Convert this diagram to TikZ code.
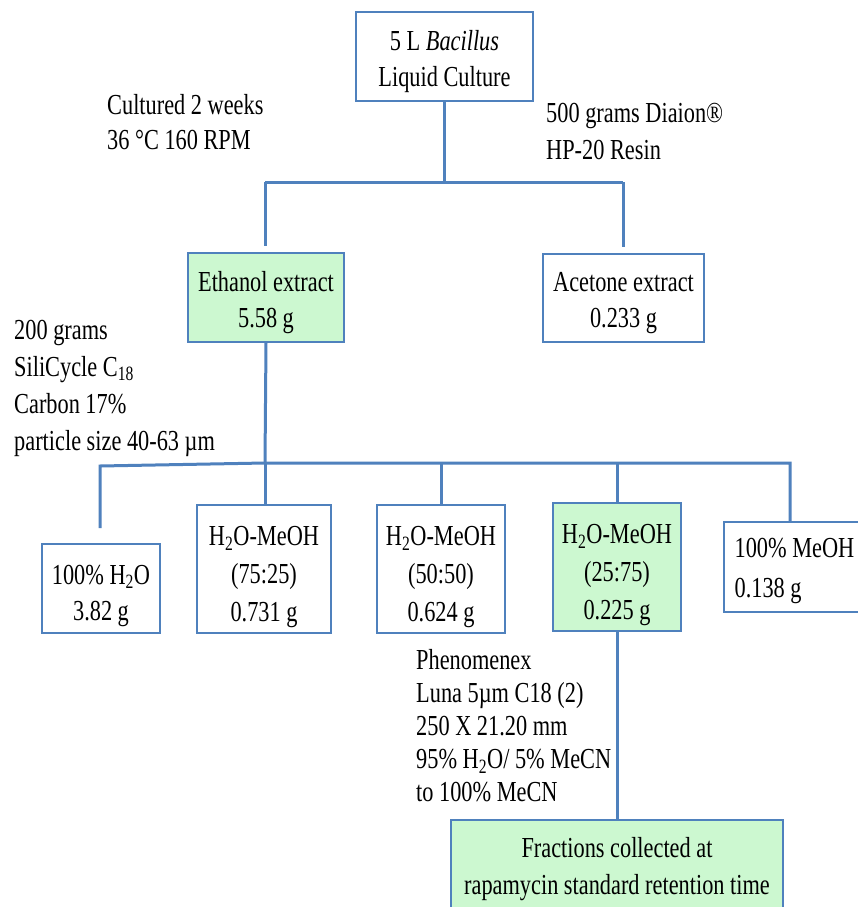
\documentclass[tikz,border=0pt]{standalone}
\usepackage{fontspec}
\setmainfont[FakeStretch=0.77]{Liberation Serif}
\definecolor{lineblue}{HTML}{4F81BD}
\definecolor{boxgreen}{HTML}{CCF8D0}
\tikzset{
  box/.style={draw=lineblue, line width=1.2pt, fill=white, inner sep=0pt},
  gbox/.style={box, fill=boxgreen},
  btxt/.style={align=center, inner sep=0pt, font=\fontsize{29}{36}\selectfont},
  conn/.style={draw=lineblue, line width=3pt},
  note/.style={align=left, anchor=west, inner sep=0pt},
}
\begin{document}
\begin{tikzpicture}[x=1pt,y=-1pt]
\useasboundingbox (0,0) rectangle (858,907);
\clip (0,0) rectangle (858,907);
\fill[white] (0,0) rectangle (858,907);

% boxes
\node[box, minimum width=177pt, minimum height=89pt] (top) at (444.5,56.5) {};
\node[btxt] (top-t) at ([yshift=-5pt]top.center) {5 L \textit{Bacillus}\\Liquid Culture};
\node[gbox, minimum width=156pt, minimum height=89pt] (eth) at (266,297.5) {};
\node[btxt] (eth-t) at ([yshift=-5pt]eth.center) {Ethanol extract\\5.58 g};
\node[box, minimum width=161pt, minimum height=88pt] (ace) at (623.5,298) {};
\node[btxt] (ace-t) at ([yshift=-5pt]ace.center) {Acetone extract\\0.233 g};
\node[box, minimum width=118pt, minimum height=89pt] (b1) at (101,588.5) {};
\node[btxt] (b1-t) at ([yshift=-7pt]b1.center) {100\% H\textsubscript{2}O\\3.82 g};
\node[box, minimum width=134pt, minimum height=128pt] (b2) at (264,569) {};
\node[btxt, font=\fontsize{29}{38}\selectfont] (b2-t) at ([yshift=-8pt]b2.center) {H\textsubscript{2}O-MeOH\\(75:25)\\0.731 g};
\node[box, minimum width=128pt, minimum height=128pt] (b3) at (441,569) {};
\node[btxt, font=\fontsize{29}{38}\selectfont] (b3-t) at ([yshift=-8pt]b3.center) {H\textsubscript{2}O-MeOH\\(50:50)\\0.624 g};
\node[gbox, minimum width=128pt, minimum height=128pt] (b4) at (617,567) {};
\node[btxt, font=\fontsize{29}{38}\selectfont] (b4-t) at ([yshift=-8pt]b4.center) {H\textsubscript{2}O-MeOH\\(25:75)\\0.225 g};
\node[box, minimum width=148pt, minimum height=90pt] (b5) at (798,567) {};
\node[btxt, align=left, anchor=west, font=\fontsize{29}{40}\selectfont] (b5-t) at ([xshift=11pt,yshift=-4pt]b5.west) {100\% MeOH\\0.138 g};
\node[gbox, minimum width=332pt, minimum height=100pt] (fin) at (617,870) {};
\node[btxt, font=\fontsize{29}{37}\selectfont] (fin-t) at ([yshift=-1pt]617,868.5) {Fractions collected at\\rapamycin standard retention time};

% notes
\node[note, font=\fontsize{29}{35}\selectfont] (n1) at (107,122.5) {Cultured 2 weeks\\36 °C 160 RPM};
\node[note, font=\fontsize{29}{37}\selectfont] (n2) at (546,131.5) {500 grams Diaion®\\HP-20 Resin};
\node[note, font=\fontsize{29}{37}\selectfont] (n3) at (14,388) {200 grams\\SiliCycle C\textsubscript{18}\\Carbon 17\%\\particle size 40-63 µm};
\node[note, font=\fontsize{29}{33}\selectfont] (n4) at (416,726) {Phenomenex\\Luna 5µm C18 (2)\\250 X 21.20 mm\\95\% H\textsubscript{2}O/ 5\% MeCN\\to 100\% MeCN};

% connector coordinates
\coordinate (j1) at (444.5,182);
\coordinate (jl) at (265,182);
\coordinate (jr) at (623,182);
\coordinate (j2) at (265,463);
\coordinate (cL) at (100,466);
\coordinate (c1) at (100,528);
\coordinate (cR) at (790,463);

% connectors
\draw[conn] (top.south) -- (j1);
\draw[conn] (jl) -- (jr);
\draw[conn, shorten >=6pt] (jl) -- (jl |- eth.north);
\draw[conn, shorten >=6pt] (jr) -- (jr |- ace.north);
\draw[conn] (eth.south) -- (j2);
\draw[conn] (c1) -- (cL) -- (j2) -- (cR) -- (cR |- b5.north);
\draw[conn] (j2) -- (j2 |- b2.north);
\draw[conn] (b3.north |- j2) -- (b3.north);
\draw[conn] (b4.north |- j2) -- (b4.north);
\draw[conn] (b4.south) -- (fin.north);
\end{tikzpicture}
\end{document}
